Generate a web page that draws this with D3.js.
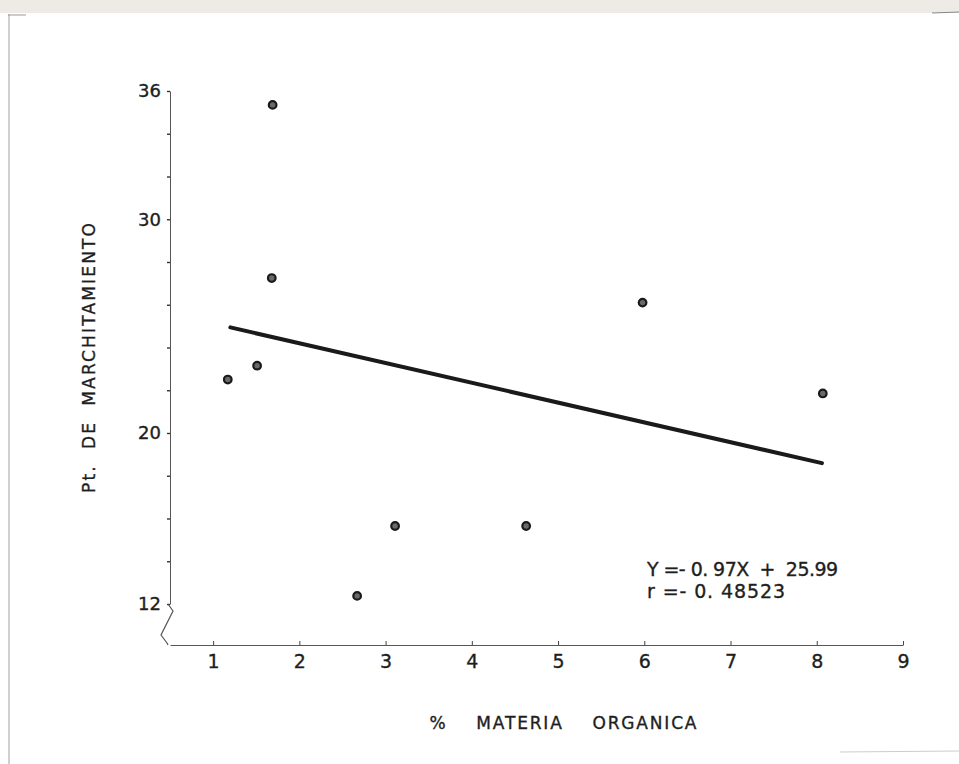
<!DOCTYPE html>
<html>
<head>
<meta charset="utf-8">
<script src="https://cdn.jsdelivr.net/npm/d3@7"></script>
<style>
  body { margin: 0; background: #fff; }
  text { font-family: "DejaVu Sans", sans-serif; fill: #1e1e1e; stroke: #1e1e1e; stroke-width: 0.35; }
</style>
</head>
<body>
<svg id="chart"></svg>
<script>
// % materia organica vs punto de marchitamiento
var xValues = [1.17, 1.51, 1.68, 1.69, 2.67, 3.11, 4.63, 5.98, 8.07];
var yValues = [22.5, 23.15, 27.25, 35.35, 12.38, 15.65, 15.65, 26.1, 21.85];

// regression line ends
var lineX = [1.2, 8.06];
var lineY = [24.94, 18.59];

var xTicks = [1, 2, 3, 4, 5, 6, 7, 8, 9];
var yTicks = [12, 14, 16, 18, 20, 22, 24, 26, 28, 30, 32, 34, 36];
var yTickLabels = [12, 20, 30, 36];

var eqLines = ["Y =- 0. 97X  +  25.99", "r =- 0. 48523"];

var initGraph = function(target)
{
    var screen = {width:959, height:764};

    var svg = d3.select(target)
        .attr("width", screen.width)
        .attr("height", screen.height);

    // scan artefacts of the page
    svg.append("rect")
        .attr("x", 0).attr("y", 0)
        .attr("width", screen.width).attr("height", 13)
        .attr("fill", "#eeebe6");
    svg.append("line")
        .attr("x1", 9).attr("x2", 9)
        .attr("y1", 14).attr("y2", screen.height)
        .attr("stroke", "#b0b0b0").attr("stroke-width", 1.2);
    svg.append("line")
        .attr("x1", 8).attr("x2", 26)
        .attr("y1", 15).attr("y2", 15)
        .attr("stroke", "#999");
    svg.append("line")
        .attr("x1", 932).attr("x2", 959)
        .attr("y1", 13).attr("y2", 12)
        .attr("stroke", "#888").attr("stroke-width", 1.2);
    svg.append("line")
        .attr("x1", 840).attr("x2", 959)
        .attr("y1", 752).attr("y2", 751)
        .attr("stroke", "#ccc");

    var xScale = d3.scaleLinear()
        .domain([0.5, 9])
        .range([170, 903]);

    var yScale = d3.scaleLinear()
        .domain([12, 36])
        .range([604, 91]);

    var axisY = 645;

    // x axis, ticks pointing up
    var xAxis = d3.axisBottom(xScale)
        .tickValues(xTicks)
        .tickSizeInner(-4)
        .tickSizeOuter(0)
        .tickPadding(10)
        .tickFormat(d3.format("d"));

    var gx = svg.append("g")
        .attr("transform", "translate(0," + axisY + ")")
        .call(xAxis);
    gx.select(".domain").attr("stroke", "#555").attr("stroke-width", 1);
    gx.selectAll(".tick line").attr("stroke", "#444");
    gx.selectAll(".tick text")
        .style("font-size", "19px")
        .style("font-family", "DejaVu Sans, sans-serif")
        .attr("fill", "#1e1e1e");

    // y axis
    var yAxis = d3.axisLeft(yScale)
        .tickValues(yTicks)
        .tickSizeInner(3)
        .tickSizeOuter(0)
        .tickPadding(6)
        .tickFormat(function(d){ return yTickLabels.indexOf(d) >= 0 ? d : ""; });

    var gy = svg.append("g")
        .attr("transform", "translate(" + xScale(0.5) + ",0)")
        .call(yAxis);
    gy.select(".domain").attr("stroke", "#555").attr("stroke-width", 1);
    gy.selectAll(".tick line").attr("stroke", "#333").attr("stroke-width", 1.4);
    gy.selectAll(".tick text")
        .style("font-size", "18px")
        .style("font-family", "DejaVu Sans, sans-serif")
        .attr("fill", "#1e1e1e");

    // axis break between 12 and the x axis
    var bx = xScale(0.5), by = yScale(12);
    svg.append("path")
        .attr("d", d3.line()([[bx - 2, by], [bx + 3, by + 7], [bx - 9, by + 31],
                             [bx - 3, by + 39], [bx - 2, axisY]]))
        .attr("fill", "none")
        .attr("stroke", "#555")
        .attr("stroke-width", 1.2);

    // regression line
    svg.append("line")
        .attr("x1", xScale(lineX[0])).attr("y1", yScale(lineY[0]))
        .attr("x2", xScale(lineX[1])).attr("y2", yScale(lineY[1]))
        .attr("stroke", "#1a1a1a")
        .attr("stroke-width", 4)
        .attr("stroke-linecap", "round");

    // points
    svg.append("g")
        .selectAll("circle")
        .data(xValues)
        .enter()
        .append("circle")
        .attr("cx", function(d){ return xScale(d); })
        .attr("cy", function(d, i){ return yScale(yValues[i]); })
        .attr("r", 3.8)
        .attr("fill", "#6a6a6a")
        .attr("stroke", "#1a1a1a")
        .attr("stroke-width", 2.2);

    // equation
    svg.append("g")
        .selectAll("text")
        .data(eqLines)
        .enter()
        .append("text")
        .attr("x", 647)
        .attr("y", function(d, i){ return 576 + i * 22; })
        .attr("textLength", function(d, i){ return i == 0 ? 191 : 138; })
        .attr("lengthAdjust", "spacing")
        .style("font-size", "19px")
        .style("white-space", "pre")
        .text(function(d){ return d; });

    // axis titles
    svg.append("text")
        .attr("transform", "translate(95,358) rotate(-90)")
        .attr("text-anchor", "middle")
        .attr("textLength", 270)
        .attr("lengthAdjust", "spacing")
        .style("font-size", "17px")
        .style("white-space", "pre")
        .text("Pt.  DE  MARCHITAMIENTO");

    svg.append("text")
        .attr("x", 563)
        .attr("y", 729)
        .attr("text-anchor", "middle")
        .attr("textLength", 267)
        .attr("lengthAdjust", "spacing")
        .style("font-size", "17px")
        .style("white-space", "pre")
        .text("%    MATERIA    ORGANICA");
}

initGraph("#chart");
</script>
</body>
</html>
